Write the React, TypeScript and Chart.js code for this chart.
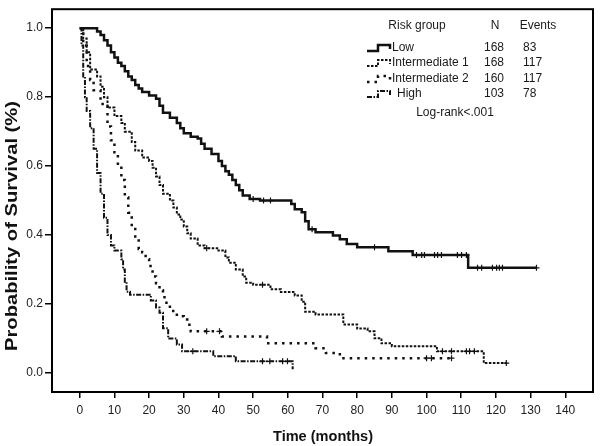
import React, { useEffect, useRef } from "react";
import { Chart, registerables } from "chart.js";
Chart.register(...registerables);

// ---- Data ----
const xTickValues = [0, 10, 20, 30, 40, 50, 60, 70, 80, 90, 100, 110, 120, 130, 140];
const yTickValues = [0, 0.2, 0.4, 0.6, 0.8, 1.0];

const groupNames = ["Low", "Intermediate 1", "Intermediate 2", "High"];
const groupN = [168, 168, 160, 103];
const groupEvents = [83, 117, 117, 78];
const logRankText = "Log-rank<.001";

const lowT = [0, 4, 5, 6, 7, 8, 9, 10, 11, 12, 13, 14, 15, 16, 17, 18, 20, 22, 23, 24, 26, 28, 29, 30, 32, 34, 35, 36, 38, 40, 41, 42, 43, 44, 45, 46, 47, 49, 52, 61, 62, 64, 65, 66, 68, 73, 75, 77, 80, 89, 96, 112, 131.7];
const lowS = [1, 1, 0.99, 0.98, 0.965, 0.95, 0.93, 0.915, 0.9, 0.89, 0.875, 0.86, 0.85, 0.835, 0.825, 0.815, 0.805, 0.795, 0.775, 0.755, 0.74, 0.725, 0.71, 0.695, 0.685, 0.68, 0.665, 0.65, 0.635, 0.615, 0.6, 0.585, 0.575, 0.56, 0.545, 0.53, 0.515, 0.505, 0.5, 0.49, 0.475, 0.466, 0.44, 0.417, 0.408, 0.399, 0.388, 0.374, 0.365, 0.353, 0.342, 0.305, 0.305];
const lowCens = [50, 53, 55, 67, 85, 97.1, 98.6, 99.4, 102.3, 103.2, 104.3, 108.9, 110.1, 111.5, 114.7, 115.9, 119, 120.2, 121, 121.9, 131.7];

const int1T = [0, 1, 2, 3, 5, 6, 7, 8, 10, 12, 13, 15, 16, 18, 20, 21, 22, 23, 24, 26, 27, 28, 29, 30, 31, 32, 34, 36, 40, 42, 43, 45, 47, 48, 50, 55, 58, 62, 64, 65, 68, 76, 80, 83, 85, 87, 90, 103, 116.5, 123];
const int1S = [1, 0.97, 0.93, 0.88, 0.86, 0.83, 0.8, 0.77, 0.745, 0.725, 0.7, 0.67, 0.645, 0.625, 0.615, 0.595, 0.57, 0.545, 0.52, 0.5, 0.48, 0.46, 0.445, 0.425, 0.405, 0.39, 0.37, 0.362, 0.355, 0.335, 0.32, 0.3, 0.28, 0.262, 0.256, 0.243, 0.235, 0.225, 0.207, 0.178, 0.17, 0.141, 0.129, 0.121, 0.101, 0.086, 0.078, 0.063, 0.029, 0.029];
const int1Cens = [36.6, 52.7, 104.6, 107.2, 111.5, 112.4, 113.8, 123];

const int2T = [0, 1, 2, 3, 4, 6, 8, 9, 10, 11, 12, 13, 14, 15, 16, 17, 18, 19, 20, 21, 22, 23, 24, 25, 26, 28, 30, 31, 32, 41, 54, 68, 71, 75, 107];
const int2S = [1, 0.95, 0.89, 0.85, 0.82, 0.78, 0.715, 0.675, 0.64, 0.6, 0.56, 0.51, 0.465, 0.425, 0.39, 0.36, 0.35, 0.33, 0.31, 0.28, 0.26, 0.24, 0.22, 0.2, 0.18, 0.165, 0.155, 0.14, 0.121, 0.106, 0.086, 0.072, 0.058, 0.043, 0.043];
const int2Cens = [36.6, 40.3, 100, 101.4, 107.2];

const highT = [0, 0.5, 1, 1.5, 2, 3, 4, 5, 6, 7, 8, 9, 10, 12, 12.5, 13, 13.5, 14.5, 20.5, 22, 23, 24, 25.5, 28, 29.5, 38.5, 45, 61.4];
const highS = [1, 0.95, 0.86, 0.8, 0.76, 0.71, 0.65, 0.58, 0.52, 0.45, 0.4, 0.37, 0.355, 0.33, 0.3, 0.265, 0.236, 0.227, 0.21, 0.19, 0.175, 0.13, 0.1, 0.083, 0.063, 0.049, 0.034, 0.011];
const highCens = [32.6, 52.7, 54.8, 58.5, 59.9];

const FONT = '"Liberation Sans", Arial, Helvetica, sans-serif';
const INK = "#111";

function stepAt(T: number[], S: number[], t: number) {
  let v = S[0];
  for (let i = 0; i < T.length; i++) if (T[i] <= t) v = S[i];
  return v;
}

const styles = [
  { dash: [] as number[], width: 2.5 },
  { dash: [2.5, 1.5], width: 2 },
  { dash: [2.5, 5], width: 2.5 },
  { dash: [5, 1.5, 1.5, 1.5], width: 2 },
];

export default function App() {
  const ref = useRef<HTMLCanvasElement>(null);
  useEffect(() => {
    const canvas = ref.current!;
    const mk = (T: number[], S: number[]) => T.map((t, i) => ({ x: t, y: S[i] }));
    const cens = (T: number[], S: number[], C: number[]) => C.map((t) => ({ x: t, y: stepAt(T, S, t) }));
    const lineDs = (label: string, T: number[], S: number[], k: number) => ({
      type: "line" as const,
      label,
      data: mk(T, S),
      borderColor: INK,
      borderWidth: styles[k].width,
      borderDash: styles[k].dash,
      borderCapStyle: "butt" as const,
      stepped: "before" as const,
      pointRadius: 0,
      fill: false,
    });
    const censDs = (T: number[], S: number[], C: number[]) => ({
      type: "scatter" as const,
      data: cens(T, S, C),
      pointStyle: "cross" as const,
      pointRadius: 3,
      borderColor: INK,
      borderWidth: 1.2,
      showLine: false,
    });

    const framePlugin = {
      id: "frame",
      afterDraw(chart: any) {
        const c = chart.ctx as CanvasRenderingContext2D;
        const a = chart.chartArea;
        c.save();
        c.strokeStyle = "#000";
        c.lineWidth = 2;
        c.setLineDash([]);
        c.strokeRect(a.left, a.top, a.right - a.left, a.bottom - a.top);

        // Legend
        c.fillStyle = "#1a1a1a";
        c.font = `12px ${FONT}`;
        c.textBaseline = "middle";
        c.textAlign = "center";
        c.fillText("Risk group", 417, 26);
        c.fillText("N", 495, 26);
        c.fillText("Events", 538, 26);
        const rows = [48, 63, 79, 94];
        rows.forEach((y, i) => {
          c.textAlign = "left";
          c.fillText(groupNames[i], i === 3 ? 397 : 392, y);
          c.textAlign = "right";
          c.fillText(String(groupN[i]), 504, y);
          c.textAlign = "left";
          c.fillText(String(groupEvents[i]), 523, y);
          c.save();
          c.strokeStyle = INK;
          c.lineWidth = styles[i].width;
          c.setLineDash(styles[i].dash);
          c.beginPath();
          c.moveTo(367, y + 3);
          c.lineTo(378, y + 3);
          c.lineTo(378, y - 3);
          c.lineTo(390, y - 3);
          c.lineTo(390, y + 1);
          c.stroke();
          c.restore();
        });
        c.textAlign = "center";
        c.fillText(logRankText, 455, 113);

        // Axis titles
        c.fillStyle = "#111";
        c.font = `bold 15px ${FONT}`;
        const xt = "Time (months)";
        const xw = c.measureText(xt).width;
        c.save();
        c.translate(323, 437);
        c.scale(100 / xw, 1);
        c.textAlign = "center";
        c.fillText(xt, 0, 0);
        c.restore();

        c.font = `bold 16px ${FONT}`;
        const yt = "Probability of Survival (%)";
        const yw = c.measureText(yt).width;
        c.save();
        c.translate(13, 226);
        c.rotate(-Math.PI / 2);
        c.scale(250 / yw, 1);
        c.textAlign = "center";
        c.fillText(yt, 0, 0);
        c.restore();
        c.restore();
      },
    };

    const chart = new Chart(canvas, {
      type: "line",
      data: {
        datasets: [
          lineDs(groupNames[0], lowT, lowS, 0),
          lineDs(groupNames[1], int1T, int1S, 1),
          lineDs(groupNames[2], int2T, int2S, 2),
          lineDs(groupNames[3], highT, highS, 3),
          censDs(lowT, lowS, lowCens),
          censDs(int1T, int1S, int1Cens),
          censDs(int2T, int2S, int2Cens),
          censDs(highT, highS, highCens),
        ] as any,
      },
      options: {
        responsive: false,
        animation: false,
        events: [],
        layout: { padding: { top: 5, right: 7, left: 0, bottom: 0 } },
        plugins: { legend: { display: false }, tooltip: { enabled: false } },
        scales: {
          x: {
            type: "linear",
            min: -8,
            max: 148,
            afterBuildTicks: (s: any) => {
              s.ticks = xTickValues.map((v) => ({ value: v }));
            },
            afterFit: (s: any) => {
              s.height = 54;
            },
            border: { display: false },
            grid: { display: true, drawOnChartArea: false, drawTicks: true, tickLength: 6, color: "#000", lineWidth: 1.5 },
            ticks: {
              padding: 5,
              color: "#222",
              font: { family: FONT, size: 12 },
              maxRotation: 0,
              autoSkip: false,
              callback: (v: any) => String(v),
            },
          },
          y: {
            type: "linear",
            min: -0.055,
            max: 1.055,
            afterBuildTicks: (s: any) => {
              s.ticks = yTickValues.map((v) => ({ value: v }));
            },
            afterFit: (s: any) => {
              s.width = 52;
            },
            border: { display: false },
            grid: { display: true, drawOnChartArea: false, drawTicks: true, tickLength: 7, color: "#000", lineWidth: 1.5 },
            ticks: {
              padding: 2,
              color: "#222",
              font: { family: FONT, size: 12 },
              autoSkip: false,
              callback: (v: any) => Number(v).toFixed(1),
            },
          },
        },
      } as any,
      plugins: [framePlugin],
    });
    return () => chart.destroy();
  }, []);
  return (
    <div style={{ position: "absolute", left: 0, top: 0, width: 600, height: 446, background: "#fff" }}>
      <canvas ref={ref} width={600} height={446} style={{ width: 600, height: 446, display: "block" }} />
    </div>
  );
}
